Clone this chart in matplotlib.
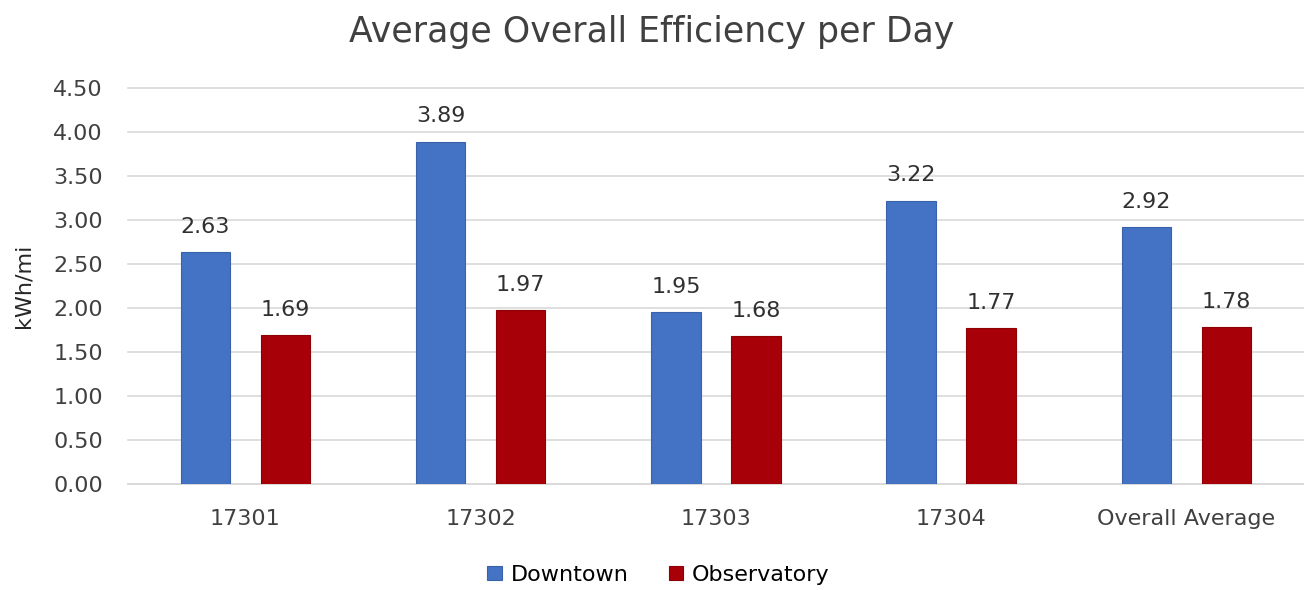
import numpy as np
import matplotlib.pyplot as plt

plt.rcParams['font.family'] = ['DejaVu Sans']

categories = ['17301', '17302', '17303', '17304', 'Overall Average']
downtown = [2.63, 3.89, 1.95, 3.22, 2.92]
observatory = [1.69, 1.97, 1.68, 1.77, 1.78]
yticks = [0.0, 0.5, 1.0, 1.5, 2.0, 2.5, 3.0, 3.5, 4.0, 4.5]


def plot_efficiency():
    fig = plt.figure(figsize=(13.04, 5.9), dpi=100)
    ax = fig.add_axes([0.098, 0.180, 0.902, 0.671])

    x = np.arange(len(categories))
    off = 0.17
    w = 0.21
    b1 = ax.bar(x - off, downtown, w, color='#4472C4', edgecolor='#3A62AA',
                linewidth=0.8, label='Downtown', zorder=3)
    b2 = ax.bar(x + off, observatory, w, color='#A80008', edgecolor='#8E0006',
                linewidth=0.8, label='Observatory', zorder=3)

    for bars in (b1, b2):
        for b in bars:
            ax.annotate(f'{b.get_height():.2f}',
                        (b.get_x() + b.get_width() / 2, b.get_height()),
                        xytext=(0, 11), textcoords='offset points',
                        ha='center', va='bottom', fontsize=16, color='#303030')

    ax.set_xlim(-0.5, len(categories) - 0.5)
    ax.set_ylim(0, 4.5)
    ax.set_yticks(yticks)
    ax.set_yticklabels([f'{v:.2f}' for v in yticks])
    ax.set_xticks(x)
    ax.set_xticklabels(categories)
    ax.tick_params(axis='both', length=0, labelsize=16, labelcolor='#404040')
    ax.tick_params(axis='y', pad=18)
    ax.tick_params(axis='x', pad=18)
    ax.grid(axis='y', color='#D9D9D9', linewidth=1.2, zorder=0)
    for gl in ax.get_ygridlines():
        gl.set_clip_on(False)
    for s in ['top', 'right', 'left']:
        ax.spines[s].set_visible(False)
    ax.spines['bottom'].set_color('#D9D9D9')
    ax.spines['bottom'].set_linewidth(1.2)

    ax.set_ylabel('kWh/mi', fontsize=16, color='#262626', labelpad=2)
    ax.yaxis.set_label_coords(-0.08, 0.5)
    fig.suptitle('Average Overall Efficiency per Day', fontsize=25,
                 color='#404040', y=0.975)
    fig.legend(loc='lower center', ncol=2, frameon=False, fontsize=16,
               bbox_to_anchor=(0.505, -0.025), handlelength=0.65, handleheight=0.65,
               columnspacing=1.8, handletextpad=0.4)

    fig.savefig('out.png', dpi=100)


if __name__ == '__main__':
    plot_efficiency()
